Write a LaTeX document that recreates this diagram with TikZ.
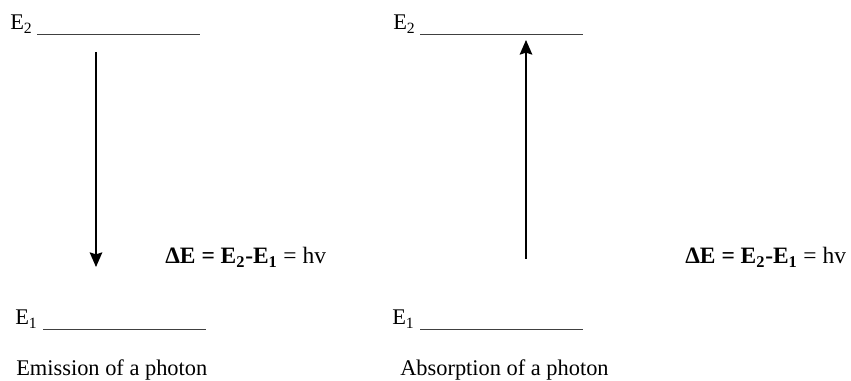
\documentclass[tikz,border=0pt]{standalone}
\usepackage{fontspec}
\setmainfont{Liberation Serif}
\usetikzlibrary{arrows.meta}
\begin{document}
\begin{tikzpicture}[x=0.75pt,y=-0.75pt,
  lbl/.style={inner sep=0pt,anchor=base west,font=\fontsize{16.8}{19}\selectfont},
  eq/.style={lbl,font=\fontsize{17.6}{20}\selectfont},
  lvl/.style={line width=0.6pt,draw=black!75},
  arr/.style={line width=1pt,-{Stealth[length=11pt,width=9.5pt,inset=1.5pt]}}]
\useasboundingbox (0,0) rectangle (851,381);
% left
\node[lbl] (lE2) at (10,30) {E\textsubscript{2}};
\coordinate (lE2a) at (37,34); \coordinate (lE2b) at (200,34);
\draw[lvl] (lE2a) -- (lE2b);
\coordinate (la1) at (96,52); \coordinate (la2) at (96,267);
\draw[arr] (la1) -- (la2);
\node[eq] (ldE) at (165,264) {\textbf{ΔE = E\textsubscript{2}-E\textsubscript{1}} = hv};
\node[lbl] (lE1) at (15,325) {E\textsubscript{1}};
\coordinate (lE1a) at (43,329); \coordinate (lE1b) at (206,329);
\draw[lvl] (lE1a) -- (lE1b);
\node[lbl] (lcap) at (16,376) {Emission of a photon};
% right
\node[lbl] (rE2) at (393,30) {E\textsubscript{2}};
\coordinate (rE2a) at (420,34); \coordinate (rE2b) at (583,34);
\draw[lvl] (rE2a) -- (rE2b);
\coordinate (ra1) at (526,259); \coordinate (ra2) at (526,40);
\draw[arr] (ra1) -- (ra2);
\node[eq] (rdE) at (685,264) {\textbf{ΔE = E\textsubscript{2}-E\textsubscript{1}} = hv};
\node[lbl] (rE1) at (392,325) {E\textsubscript{1}};
\coordinate (rE1a) at (420,329); \coordinate (rE1b) at (583,329);
\draw[lvl] (rE1a) -- (rE1b);
\node[lbl] (rcap) at (400,376) {Absorption of a photon};
\end{tikzpicture}
\end{document}
